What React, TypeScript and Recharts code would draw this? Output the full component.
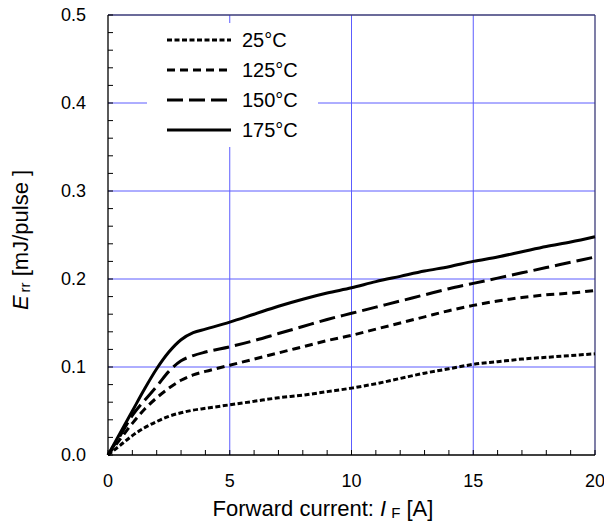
import { LineChart, Line, XAxis, YAxis, CartesianGrid, ReferenceLine, Legend, Label } from 'recharts';

const currentA = [0, 0.5, 1, 1.5, 2, 2.5, 3, 3.5, 4, 5, 6, 7, 8, 9, 10, 11, 12, 13, 14, 15, 16, 17, 18, 19, 20];
const err25 = [0, 0.011, 0.022, 0.031, 0.038, 0.044, 0.048, 0.051, 0.053, 0.057, 0.061, 0.065, 0.068, 0.072, 0.076, 0.081, 0.087, 0.093, 0.098, 0.103, 0.106, 0.109, 0.111, 0.113, 0.115];
const err125 = [0, 0.018, 0.036, 0.052, 0.065, 0.076, 0.085, 0.091, 0.095, 0.102, 0.109, 0.116, 0.123, 0.13, 0.136, 0.143, 0.15, 0.157, 0.164, 0.17, 0.175, 0.179, 0.182, 0.184, 0.187];
const err150 = [0, 0.022, 0.045, 0.062, 0.078, 0.095, 0.107, 0.113, 0.117, 0.123, 0.13, 0.138, 0.146, 0.154, 0.161, 0.168, 0.175, 0.182, 0.189, 0.195, 0.201, 0.207, 0.213, 0.219, 0.225];
const err175 = [0, 0.025, 0.05, 0.075, 0.098, 0.117, 0.131, 0.139, 0.143, 0.151, 0.16, 0.169, 0.177, 0.184, 0.19, 0.197, 0.203, 0.209, 0.214, 0.22, 0.225, 0.231, 0.237, 0.242, 0.248];

const xTicks = [0, 1, 2, 3, 4, 5, 6, 7, 8, 9, 10, 11, 12, 13, 14, 15, 16, 17, 18, 19, 20];
const xLabels = [0, 5, 10, 15, 20];
const yTicks = [0, 0.02, 0.04, 0.06, 0.08, 0.1, 0.12, 0.14, 0.16, 0.18, 0.2, 0.22, 0.24, 0.26, 0.28, 0.3, 0.32, 0.34, 0.36, 0.38, 0.4, 0.42, 0.44, 0.46, 0.48, 0.5];
const yLabels = ['0.0', '0.1', '0.2', '0.3', '0.4', '0.5'];

const series = [
  { key: 't25', name: '25°C', dash: '5 2.5' },
  { key: 't125', name: '125°C', dash: '8 5' },
  { key: 't150', name: '150°C', dash: '16 6' },
  { key: 't175', name: '175°C', dash: undefined },
];

const data = currentA.map((x, i) => ({
  x,
  t25: err25[i],
  t125: err125[i],
  t150: err150[i],
  t175: err175[i],
}));

const FONT = '"Liberation Sans", Arial, sans-serif';
const GRID = '#5c5cff';

const XTick = ({ x, y, payload }: any) => {
  const v = payload.value;
  return (
    <g>
      <line x1={x} x2={x} y1={y} y2={y - 5} stroke="#000" strokeWidth={1} />
      {xLabels.includes(v) && (
        <text x={x} y={y + 26} textAnchor="middle" dominantBaseline="central" fontSize={18} fontFamily={FONT} fill="#000">
          {v}
        </text>
      )}
    </g>
  );
};

const YTick = ({ x, y, payload }: any) => {
  const v = payload.value;
  const idx = Math.round(v * 10);
  const isMajor = Math.abs(v * 10 - idx) < 1e-6;
  return (
    <g>
      <line x1={x} x2={x + 5} y1={y} y2={y} stroke="#000" strokeWidth={1} />
      {isMajor && (
        <text x={x - 22} y={y} textAnchor="end" dominantBaseline="central" fontSize={18} fontFamily={FONT} fill="#000">
          {yLabels[idx]}
        </text>
      )}
    </g>
  );
};

const LegendBox = () => (
  <div style={{ position: 'relative', width: 171, height: 124, background: '#fff', fontFamily: FONT }}>
    {series.map((s, i) => (
      <div key={s.key} style={{ position: 'absolute', left: 0, top: 2 + i * 30, height: 30, width: 171 }}>
        <svg width={64} height={30} style={{ position: 'absolute', left: 20, top: 0 }}>
          <line x1={0} x2={64} y1={15} y2={15} stroke="#000" strokeWidth={3} strokeDasharray={s.dash} />
        </svg>
        <span style={{ position: 'absolute', left: 95, top: 0, lineHeight: '30px', fontSize: 20, color: '#000' }}>{s.name}</span>
      </div>
    ))}
  </div>
);

export default function App() {
  return (
    <div style={{ position: 'absolute', left: 0, top: 0, width: 604, height: 524, background: '#fff' }}>
      <LineChart width={604} height={524} data={data} margin={{ top: 15, right: 9, left: 0, bottom: 0 }}>
        <CartesianGrid stroke={GRID} strokeWidth={1} horizontalValues={[0.1, 0.2, 0.3, 0.4]} verticalValues={[5, 10, 15]} />
        <XAxis
          dataKey="x"
          type="number"
          domain={[0, 20]}
          ticks={xTicks}
          interval={0}
          tickSize={0}
          tickMargin={0}
          tickLine={false}
          tick={<XTick />}
          axisLine={{ stroke: '#000', strokeWidth: 1.3 }}
          height={69}
        >
          <Label
            content={() => (
              <text x={323} y={508} textAnchor="middle" dominantBaseline="central" fontSize={22} fontFamily={FONT} fill="#000">
                <tspan>Forward current: </tspan>
                <tspan fontStyle="italic">I</tspan>
                <tspan fontSize={15} dx={5} dy={4}>F</tspan>
                <tspan dy={-4}> [A]</tspan>
              </text>
            )}
          />
        </XAxis>
        <YAxis
          type="number"
          domain={[0, 0.5]}
          ticks={yTicks}
          interval={0}
          tickSize={0}
          tickMargin={0}
          tickLine={false}
          tick={<YTick />}
          axisLine={{ stroke: '#000', strokeWidth: 1.3 }}
          width={108}
        >
          <Label
            content={() => (
              <text x={20} y={240} transform="rotate(-90 20 240)" textAnchor="middle" dominantBaseline="central" fontSize={22} fontFamily={FONT} fill="#000">
                <tspan fontStyle="italic">E</tspan>
                <tspan fontSize={15} dx={3} dy={4}>rr</tspan>
                <tspan dy={-4}> [mJ/pulse ]</tspan>
              </text>
            )}
          />
        </YAxis>
        <ReferenceLine y={0.5} stroke="#3a3a78" strokeWidth={1.3} />
        <ReferenceLine x={20} stroke="#3a3a78" strokeWidth={1.3} />
        <Legend
          layout="vertical"
          align="center"
          verticalAlign="middle"
          content={<LegendBox />}
          wrapperStyle={{ left: 147, top: 23, width: 171, height: 124 }}
        />
        {series.map((s) => (
          <Line
            key={s.key}
            dataKey={s.key}
            name={s.name}
            type="monotone"
            stroke="#000"
            strokeWidth={3}
            strokeDasharray={s.dash}
            dot={false}
            activeDot={false}
            isAnimationActive={false}
          />
        ))}
      </LineChart>
    </div>
  );
}
